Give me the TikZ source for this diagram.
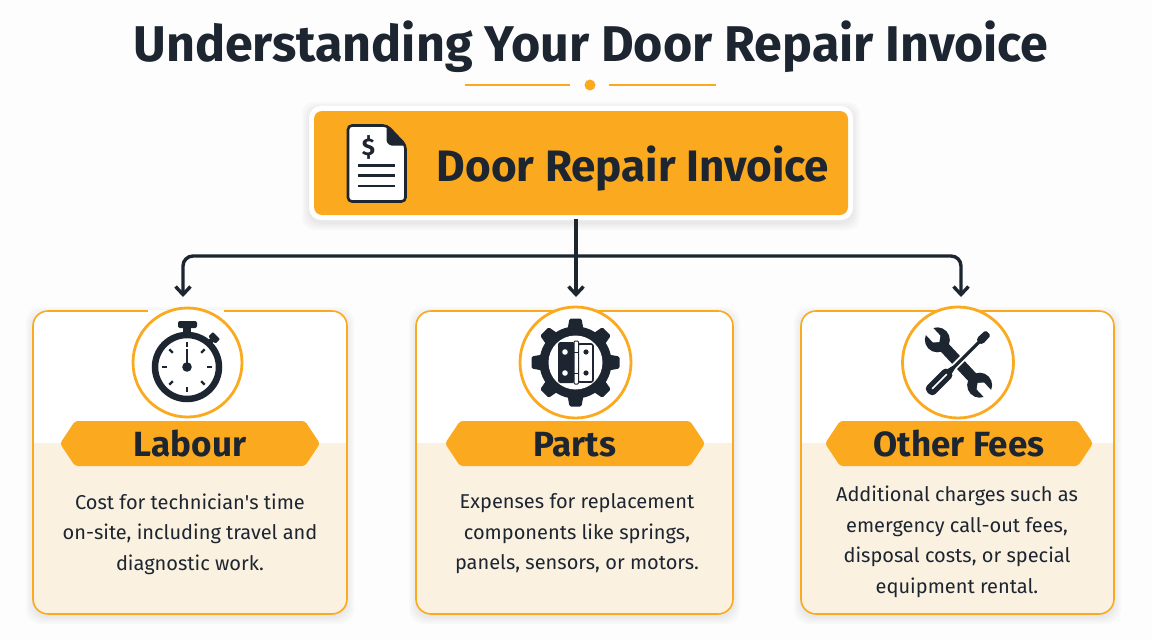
\documentclass[tikz,border=0pt]{standalone}
\usepackage{fontspec}
\setmainfont{Fira Sans}
\newfontfamily\titlefont{Fira Sans}[BoldFont={Fira Sans Bold}]
\usetikzlibrary{arrows.meta,calc}
\definecolor{ink}{HTML}{1C2530}
\definecolor{amber}{HTML}{FBA91F}
\definecolor{cream}{HTML}{FBF1E1}
\definecolor{paper}{HTML}{FDFDFD}
\newcommand{\softshadow}[5]{% x1 y1 x2 y2 radius
  \foreach \g in {7,5,3,1}{
    \fill[black,opacity=0.018,rounded corners=#5pt] (#1-\g,#2-\g+3) rectangle (#3+\g,#4+\g+3);
  }
}
\newcommand{\cardbase}[3]{% name x1 x2
  \softshadow{#2}{311}{#3}{614}{15}
  \fill[white,rounded corners=15pt] (#2,311) rectangle (#3,614);
  \begin{scope}
    \clip[rounded corners=15pt] (#2,311) rectangle (#3,614);
    \fill[cream] (#2,443) rectangle (#3,614);
  \end{scope}
  \node[cardbox,minimum width=#3pt-#2pt,minimum height=303pt] (#1) at ({(#2+#3)/2},462.5) {};
}
\newcommand{\banner}[4]{% name x1 x2 text
  \fill[amber,rounded corners=3pt] (#2,443.5) -- (#2+15,421) -- (#3-15,421) -- (#3,443.5) -- (#3-15,466) -- (#2+15,466) -- cycle;
  \node[bannertext,anchor=base] (#1) at ({(#2+#3)/2},456.5) {#4};
}
\tikzset{
  x=1pt,y=-1pt,
  cardbox/.style={draw=amber,line width=1.6pt,rounded corners=15pt,inner sep=0pt},
  iconring/.style={circle,draw=amber,line width=2.8pt,fill=white,inner sep=0pt,minimum size=109pt},
  bannertext/.style={font=\titlefont\bfseries\fontsize{35}{37}\selectfont,text=ink,inner sep=0pt},
  bodytext/.style={font=\fontsize{20}{30.5}\selectfont,text=ink,align=center,inner sep=0pt},
  link/.style={draw=ink,line width=3.4pt,rounded corners=10pt},
  tip/.style={-{Straight Barb[length=8pt,width=15pt,line width=3.4pt]}},
}
\begin{document}
\begin{tikzpicture}
\useasboundingbox (0,0) rectangle (1152,640);
\fill[paper] (0,0) rectangle (1152,640);

% title
\node[font=\titlefont\bfseries\fontsize{50.2}{56}\selectfont,text=ink,inner sep=0pt,anchor=base] (title) at (591,61) {Understanding Your Door Repair Invoice};
\draw[amber,line width=2.4pt] (465,85) -- (570,85);
\draw[amber,line width=2.4pt] (609,85) -- (716,85);
\fill[amber] (590,85) circle (5.5);

% header
\softshadow{309}{106}{853}{220}{12}
\fill[white,rounded corners=12pt] (309,106) rectangle (853,220);
\node[fill=amber,rounded corners=8pt,minimum width=534pt,minimum height=104pt,inner sep=0pt] (header) at (581,163) {};
\node[font=\titlefont\bfseries\fontsize{44}{48}\selectfont,text=ink,inner sep=0pt,anchor=base] (headertext) at (633,181.5) {Door Repair Invoice};

% document icon
\draw[ink,line width=2.6pt,fill=white,rounded corners=4pt] (348,125.5) -- (387,125.5) -- (405.5,145) -- (405.5,201.5) -- (348,201.5) -- cycle;
\fill[ink,rounded corners=1.5pt] (386.5,125.5) -- (405.5,145.5) -- (390,145.5) -- (386.5,142) -- cycle;
\node[font=\titlefont\bfseries\fontsize{24}{26}\selectfont,text=ink,inner sep=0pt] (dollar) at (368.5,147) {\$};
\foreach \yy in {165.5,175.5,186}{\draw[ink,line width=2.6pt] (358,\yy) -- (395,\yy);}

% cards
\cardbase{cardA}{33}{347}
\cardbase{cardB}{416}{733}
\cardbase{cardC}{801}{1114}
\draw[white,line width=3pt] (148,311) -- (224,311);

% connectors
\coordinate (tipA) at (183,297);
\coordinate (tipB) at (576,297);
\coordinate (tipC) at (961,297);
\coordinate (busL) at (183,256);
\coordinate (busR) at (961,256);
\draw[link,tip] (576,219) -- (tipB);
\draw[link,tip] (576,256) -- (busL) -- (tipA);
\draw[link,tip] (576,256) -- (busR) -- (tipC);

% rings
\node[iconring] (ringA) at (187.5,362.5) {};
\node[iconring,minimum size=111pt] (ringB) at (575.5,362.5) {};
\node[iconring,minimum size=111pt] (ringC) at (958,362.5) {};

% stopwatch
\draw[ink,line width=6.5pt,fill=white] (187,367) circle (32);
\fill[ink,rounded corners=2pt] (178,321) rectangle (197,328);
\fill[ink] (183,327) rectangle (191,335);
\begin{scope}[shift={(214,338)},rotate=-45]
  \fill[ink,rounded corners=1pt] (-5,-3.5) rectangle (5,3);
  \fill[ink] (-2.5,0) rectangle (2.5,8);
\end{scope}
\foreach \a in {0,45,...,315}{
  \begin{scope}[shift={(187,367)},rotate=\a]
    \draw[ink,line width=2.4pt] (20,0) -- (25,0);
  \end{scope}
}
\draw[ink,line width=2.6pt] (187,367) -- (187,349);
\fill[ink] (187,367) circle (4.8);

% gear + hinge
\begin{scope}[shift={(575.5,362.5)}]
  \foreach \a in {0,45,...,315}{
    \begin{scope}[rotate=\a]
      \fill[ink,rounded corners=1.5pt] (30,-8.5) -- (44,-6) -- (44,6) -- (30,8.5) -- cycle;
    \end{scope}
  }
  \fill[ink] (0,0) circle (36);
  \fill[white] (0,0) circle (27);
\end{scope}
\fill[ink,rounded corners=2.5pt] (558,342) rectangle (575,383);
\draw[ink,line width=1.6pt,fill=white,rounded corners=2pt] (578,344) rectangle (593,382);
\fill[ink] (575,342) rectangle (579,383);
\draw[ink,line width=1pt,fill=white,rounded corners=1pt] (574,341) rectangle (578.5,384);
\draw[ink,line width=1pt] (574,352) -- (578.5,352);
\draw[ink,line width=1pt] (574,373) -- (578.5,373);
\fill[white] (565,352) circle (2.8);
\fill[white] (565,373) circle (2.8);
\fill[ink] (586,352) circle (2.6);
\fill[ink] (586,373) circle (2.6);

% wrench + screwdriver
\begin{scope}[shift={(958.5,362.5)},rotate=-47]
  \fill[ink] (-30,-5.5) rectangle (30,5.5);
  \fill[ink] (-31,0) circle (12.5);
  \fill[ink] (31,0) circle (12.5);
  \fill[white] (-46,-5) -- (-32,-5) -- (-28,0) -- (-32,5) -- (-46,5) -- cycle;
  \fill[white] (46,-5) -- (32,-5) -- (28,0) -- (32,5) -- (46,5) -- cycle;
\end{scope}
\begin{scope}[shift={(958.5,362.5)},rotate=45]
  \draw[white,line width=7pt] (-12,0) -- (16,0);
  \draw[ink,line width=3.2pt] (-14,0) -- (30,0);
  \fill[ink,rounded corners=1.5pt] (28,-2) -- (31,-4.2) -- (42,-3.6) -- (42,3.6) -- (31,4.2) -- (28,2) -- cycle;
  \fill[ink,rounded corners=4.5pt] (-43,-6) rectangle (-12,6);
  \fill[ink] (-14,-3.5) -- (-6,-1.6) -- (-6,1.6) -- (-14,3.5) -- cycle;
  \draw[white,line width=1.6pt,line cap=round] (-37,0) -- (-17,0);
\end{scope}

% banners
\banner{bannerA}{60}{320}{Labour}
\banner{bannerB}{445}{705}{Parts}
\banner{bannerC}{825}{1093}{Other Fees}

% body text
\node[bodytext] (textA) at (190,534) {Cost for technician\textquotesingle s time\\on-site, including travel and\\diagnostic work.};
\node[bodytext] (textB) at (577,534) {Expenses for replacement\\components like springs,\\panels, sensors, or motors.};
\node[bodytext] (textC) at (957,542) {Additional charges such as\\emergency call-out fees,\\disposal costs, or special\\equipment rental.};
\end{tikzpicture}
\end{document}
